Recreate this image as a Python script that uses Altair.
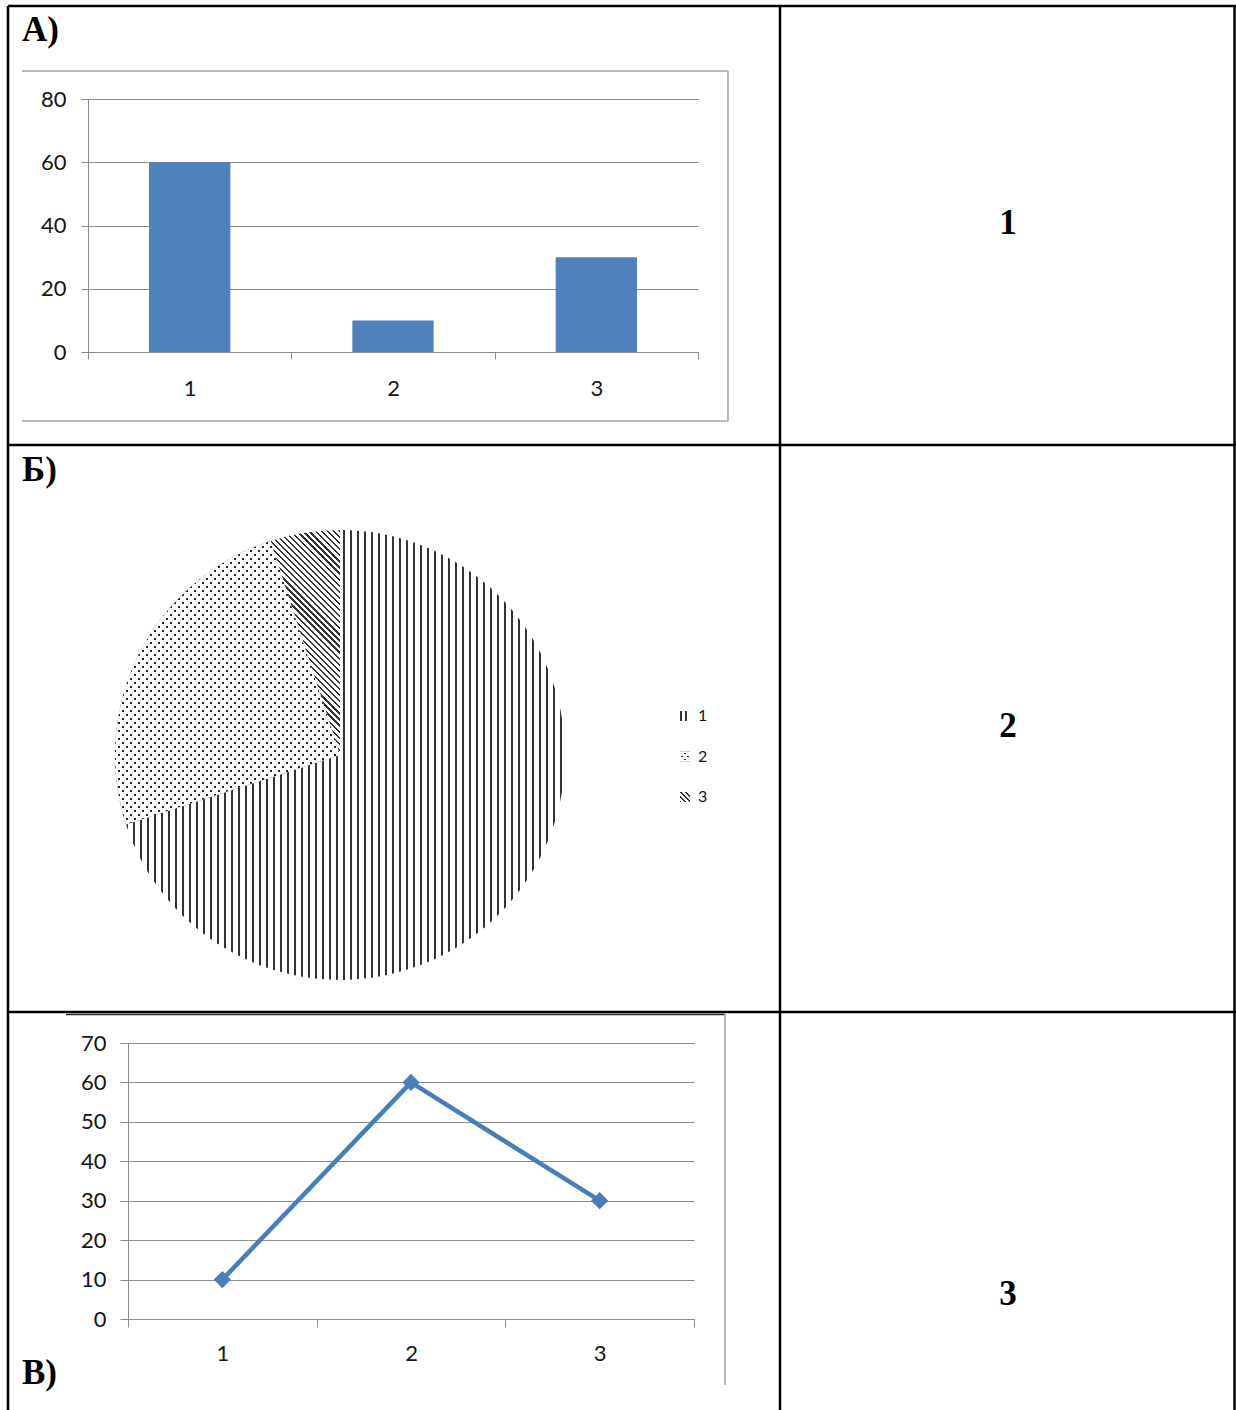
import math
import altair as alt
import pandas as pd

# ---- chart values ----
bar_categories = ["1", "2", "3"]
bar_values = [60, 10, 30]
bar_ticks = [0, 20, 40, 60, 80]

pie_categories = ["1", "2", "3"]
pie_values = [70, 25, 5]

line_categories = ["1", "2", "3"]
line_values = [10, 60, 30]
line_ticks = [0, 10, 20, 30, 40, 50, 60, 70]

row_labels = ["А)", "Б)", "В)"]
answer_labels = ["1", "2", "3"]

# ---- page / style ----
W, H = 1236, 1410
BLUE = "#4F81BD"
LINE_BLUE = "#4A7EBB"
GRID = "#8C8C8C"
FRAME = "#A6A6A6"
TEXT = "#141414"
INK = "#333333"
PAPER = "#FFFFFF"
CLEAR = "rgba(255,255,255,0)"
SANS = "Lato"
SERIF = "Liberation Serif"
AXIS_FS = 22

one = alt.Data(values=[{}])


def stripes(w, h, normal_deg, period, line_w, ink, paper):
    """Linear gradient (bbox units) with hard-edged hatch lines of a
    given pixel period on a w x h bounding box."""
    t = math.radians(normal_deg)
    nx, ny = math.cos(t), math.sin(t)
    corners = [(0, 0), (1, 0), (0, 1), (1, 1)]
    proj = [nx * cx * w + ny * cy * h for cx, cy in corners]
    lo = corners[proj.index(min(proj))]
    hi = corners[proj.index(max(proj))]
    span = max(proj) - min(proj)
    gx, gy = nx * w, ny * h
    s = ((hi[0] - lo[0]) * gx + (hi[1] - lo[1]) * gy) / (gx * gx + gy * gy)
    x1, y1 = lo
    x2, y2 = lo[0] + s * gx, lo[1] + s * gy
    stops = []
    k = 0
    while k * period < span:
        a = k * period / span
        b = min((k * period + line_w) / span, 1.0)
        stops += [(a, paper), (a, ink), (b, ink), (b, paper)]
        k += 1
    stops.append((1.0, paper))
    return {
        "gradient": "linear",
        "x1": round(x1, 5), "y1": round(y1, 5),
        "x2": round(x2, 5), "y2": round(y2, 5),
        "stops": [{"offset": round(o, 5), "color": c} for o, c in stops],
    }


def slice_box(a0, a1, r):
    """Bounding box size of a pie slice (angles clockwise from 12 o'clock)."""
    pts = [(0.0, 0.0), (math.sin(a0), -math.cos(a0)), (math.sin(a1), -math.cos(a1))]
    for k in range(5):
        ang = k * math.pi / 2
        if a0 < ang < a1:
            pts.append((math.sin(ang), -math.cos(ang)))
    xs = [p[0] * r for p in pts]
    ys = [p[1] * r for p in pts]
    return max(xs) - min(xs), max(ys) - min(ys)


def rule(x, x2, y, y2, color, width):
    return alt.Chart(one).mark_rule(color=color, strokeWidth=width).encode(
        x=alt.value(x), x2=alt.value(x2), y=alt.value(y), y2=alt.value(y2)
    )


def caption(txt, x, y, align="left"):
    return alt.Chart(one).mark_text(
        text=txt, align=align, baseline="alphabetic", font=SERIF,
        fontSize=35, fontWeight="bold", color="black",
    ).encode(x=alt.value(x), y=alt.value(y))


def by_cat(values, other):
    conds = [{"test": f"datum.cat === '{c}'", "value": v} for c, v in values.items()]
    return {"condition": conds, "value": other}


# ---- A) column chart ----
bar_df = pd.DataFrame({"cat": bar_categories, "val": bar_values})
bar = alt.Chart(bar_df).mark_bar(color=BLUE, width=alt.RelativeBandSize(0.4)).encode(
    x=alt.X(
        "cat:N", sort=None,
        scale=alt.Scale(type="band", domain=bar_categories, range=[88, 698],
                        paddingInner=0, paddingOuter=0),
        axis=alt.Axis(orient="bottom", offset=352 - H, title=None, labelAngle=0,
                      tickBand="extent", grid=False, domainColor=GRID, tickColor=GRID,
                      tickSize=7, labelPadding=19, labelFont=SANS, labelFontSize=AXIS_FS,
                      labelColor=TEXT),
    ),
    y=alt.Y(
        "val:Q",
        scale=alt.Scale(domain=[0, 80], range=[352, 99], nice=False),
        axis=alt.Axis(orient="left", offset=-88, values=bar_ticks, title=None, grid=True,
                      gridColor=GRID, domainColor=GRID, tickColor=GRID, tickSize=7,
                      labelPadding=15, labelFont=SANS, labelFontSize=AXIS_FS,
                      labelColor=TEXT),
    ),
)

# ---- Б) hatched pie ----
CX, CY, R = 340, 755, 225
total = sum(pie_values)
edges = [0.0]
for v in pie_values:
    edges.append(edges[-1] + 2 * math.pi * v / total)
boxes = [slice_box(edges[i], edges[i + 1], R) for i in range(len(pie_values))]

pie_df = pd.DataFrame({"cat": pie_categories, "val": pie_values})


def pie_layer(fill):
    return alt.Chart(pie_df).mark_arc(radius=R, strokeWidth=0).encode(
        theta=alt.Theta("val:Q", stack=True),
        order=alt.Order("cat:N", sort="ascending"),
        detail="cat:N",
        x=alt.value(CX), y=alt.value(CY),
        fill=fill,
    )


DOT = "#262626"
pie_base = pie_layer(by_cat({
    "1": stripes(*boxes[0], 0, 7.0, 2.4, INK, PAPER),
    "2": DOT,
}, stripes(*boxes[2], -45, 4.3, 1.6, INK, PAPER)))
pie_dots_a = pie_layer(by_cat({"2": stripes(*boxes[1], 45, 5.66, 2.1, CLEAR, PAPER)}, CLEAR))
pie_dots_b = pie_layer(by_cat({"2": stripes(*boxes[1], -45, 5.66, 2.1, CLEAR, PAPER)}, CLEAR))

# legend: hatched swatches + labels
SW = 10
leg_y = alt.Y("cat:N", sort=None, axis=None,
              scale=alt.Scale(type="point", domain=pie_categories, range=[716, 797], padding=0))


def swatch(fill):
    return alt.Chart(pie_df).mark_square(size=SW * SW, strokeWidth=0, opacity=1).encode(
        x=alt.value(685), y=leg_y, fill=fill
    )


leg_base = swatch(by_cat({
    "1": stripes(SW, SW, 0, 5.0, 1.8, INK, PAPER),
    "2": DOT,
}, stripes(SW, SW, -45, 3.4, 1.3, INK, PAPER)))
leg_dots_a = swatch(by_cat({"2": stripes(SW, SW, 45, 4.2, 1.6, CLEAR, PAPER)}, CLEAR))
leg_dots_b = swatch(by_cat({"2": stripes(SW, SW, -45, 4.2, 1.6, CLEAR, PAPER)}, CLEAR))
leg_text = alt.Chart(pie_df).mark_text(
    align="left", baseline="middle", font=SANS, fontSize=16, color=TEXT
).encode(x=alt.value(698), y=leg_y, text="cat:N")

# ---- В) line chart ----
line_df = pd.DataFrame({"cat": line_categories, "val": line_values})
line = alt.Chart(line_df).mark_line(
    color=LINE_BLUE, strokeWidth=4.5,
    point=alt.OverlayMarkDef(shape="diamond", size=300, filled=True, color=LINE_BLUE),
).encode(
    x=alt.X(
        "cat:N", sort=None,
        scale=alt.Scale(type="band", domain=line_categories, range=[128, 694],
                        paddingInner=0, paddingOuter=0),
        axis=alt.Axis(orient="bottom", offset=1319 - H, title=None, labelAngle=0,
                      tickBand="extent", grid=False, domainColor=GRID, tickColor=GRID,
                      tickSize=8, labelPadding=16, labelFont=SANS, labelFontSize=AXIS_FS,
                      labelColor=TEXT),
    ),
    y=alt.Y(
        "val:Q",
        scale=alt.Scale(domain=[0, 70], range=[1319, 1043], nice=False),
        axis=alt.Axis(orient="left", offset=-128, values=line_ticks, title=None, grid=True,
                      gridColor=GRID, domainColor=GRID, tickColor=GRID, tickSize=8,
                      labelPadding=14, labelFont=SANS, labelFontSize=AXIS_FS,
                      labelColor=TEXT),
    ),
)

# ---- table, frames and captions ----
frames = [
    rule(22, 728, 71, 71, FRAME, 1.6),
    rule(728, 728, 71, 421, FRAME, 1.6),
    rule(22, 728, 421, 421, FRAME, 1.6),
    rule(66, 725, 1014.5, 1014.5, "#2A2A2A", 1.6),
    rule(725, 725, 1014, 1385, FRAME, 1.6),
]
table = [
    rule(8, W, 6, 6, "black", 2.5),
    rule(8, W, 445, 445, "black", 2.5),
    rule(8, W, 1012, 1012, "black", 2.5),
    rule(8, 8, 6, H, "black", 2.5),
    rule(780, 780, 6, H, "black", 2.5),
    rule(1234.5, 1234.5, 6, H, "black", 2.5),
]
captions = [
    caption(row_labels[0], 22, 41),
    caption(row_labels[1], 22, 481),
    caption(row_labels[2], 22, 1384),
    caption(answer_labels[0], 1008, 234, "center"),
    caption(answer_labels[1], 1008, 737, "center"),
    caption(answer_labels[2], 1008, 1305, "center"),
]

chart = alt.layer(
    bar, line,
    pie_base, pie_dots_a, pie_dots_b,
    leg_base, leg_dots_a, leg_dots_b, leg_text,
    *frames, *table, *captions,
).resolve_scale(
    x="independent", y="independent"
).resolve_axis(
    x="independent", y="independent"
).properties(
    width=W, height=H, padding=0, background="white",
    autosize=alt.AutoSizeParams(type="none"),
).configure_view(stroke=None)

chart.save("out.html", embed_options={"renderer": "svg", "actions": False})
